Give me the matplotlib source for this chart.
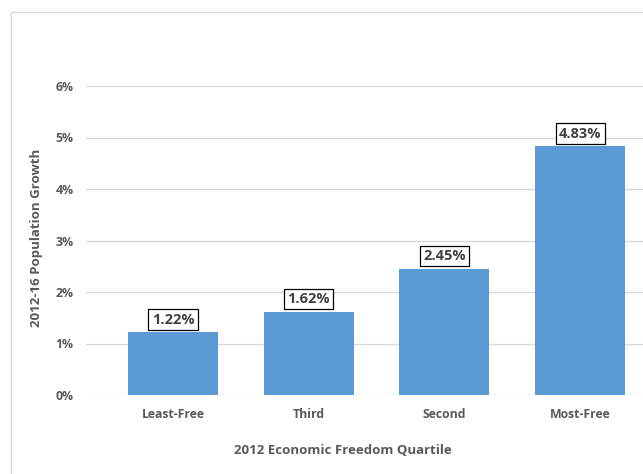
import matplotlib.pyplot as plt
from matplotlib.patches import Rectangle
import numpy as np

# quartile data
quartiles = ["Least-Free", "Third", "Second", "Most-Free"]
growth = [1.22, 1.62, 2.45, 4.83]
yticks = [0, 1, 2, 3, 4, 5, 6]

W, H = 643, 474
fig = plt.figure(figsize=(W / 100, H / 100), dpi=100)
plt.rcParams['font.family'] = ['Open Sans', 'DejaVu Sans']

# outer chart border (light gray), cut off on the right and bottom
fig.patches.append(Rectangle((11 / W, -0.1), 1.2, (H - 12) / H + 0.1,
                             transform=fig.transFigure, fill=False,
                             edgecolor='#d9d9d9', linewidth=1.0))

# plot area runs from x=86 past the right edge, y=86..395 px
ax = fig.add_axes([86 / W, (H - 395) / H, (W - 86) / W, (395 - 86) / H])
x = np.arange(len(quartiles))
ax.bar(x, growth, width=0.663, color='#5b9bd5', zorder=3)

ax.set_ylim(0, 6)
ax.set_xlim(-0.641, 3.463)
ax.set_yticks(yticks)
ax.set_yticklabels([f"{v}%" for v in yticks])
ax.set_xticks(x)
ax.set_xticklabels(quartiles)
ax.grid(axis='y', color='#d9d9d9', linewidth=1.0, zorder=0)
for s in ax.spines.values():
    s.set_visible(False)
ax.tick_params(length=0, colors='#595959', labelsize=8.8)
ax.tick_params(axis='y', pad=9)
ax.tick_params(axis='x', pad=9)
for lab in ax.get_xticklabels() + ax.get_yticklabels():
    lab.set_fontweight('bold')

for xi, v in zip(x, growth):
    ax.annotate(f"{v:.2f}%", (xi, v), xytext=(0, 4), textcoords='offset points',
                ha='center', va='bottom', fontsize=10.5, fontweight='bold',
                color='#404040', zorder=5,
                bbox=dict(boxstyle='square,pad=0.22', facecolor='white',
                          edgecolor='black', linewidth=0.9))

fig.text(343 / W, 1 - 450 / H, "2012 Economic Freedom Quartile", ha='center',
         va='center', fontsize=9.5, fontweight='bold', color='#595959')
fig.text(37 / W, 1 - 238 / H, "2012-16 Population Growth", ha='center',
         va='center', rotation=90, fontsize=9.5, fontweight='bold', color='#595959')

fig.savefig("out.png", dpi=100)
